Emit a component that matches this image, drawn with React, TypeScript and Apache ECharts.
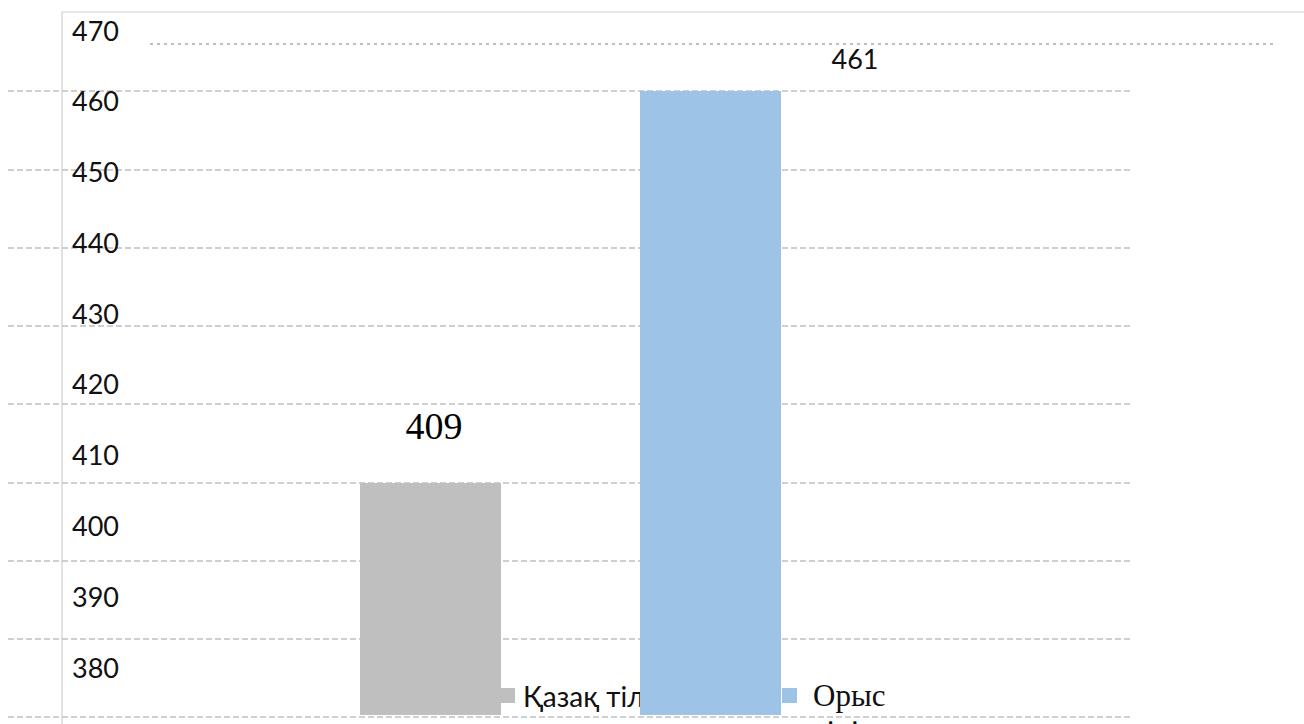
import React, { useEffect, useRef } from "react";
import * as echarts from "echarts";

const categories = ["Қазақ тілі", "Орыс тілі"];
const kazakhValues: (number | string)[] = [409, "-"];
const russianValues: (number | string)[] = ["-", 461];
const tickLabels = [380, 390, 400, 410, 420, 430, 440, 450, 460, 470];

export default function App() {
  const ref = useRef<HTMLDivElement>(null);
  useEffect(() => {
    if (!ref.current) return;
    const chart = echarts.init(ref.current, undefined, { renderer: "svg" });
    const sans = "Lato, 'Open Sans', sans-serif";
    const serif = "'Liberation Serif', 'Times New Roman', serif";
    chart.setOption({
      animation: false,
      backgroundColor: "#ffffff",
      grid: [
        { left: 8, right: 172, top: 91, bottom: 7 },
        { left: 290.5, right: 453.5, top: 91, bottom: 9 },
        { left: 62, right: 0, top: 30, bottom: 57 },
      ],
      xAxis: [
        { gridIndex: 0, type: "value", show: false },
        { gridIndex: 1, type: "category", data: categories, show: false },
        { gridIndex: 2, type: "value", show: false },
      ],
      yAxis: [
        {
          gridIndex: 0,
          type: "value",
          min: 380,
          max: 460,
          interval: 10,
          axisLabel: { show: false },
          axisLine: { show: false },
          axisTick: { show: false },
          splitLine: {
            show: true,
            lineStyle: { color: "#c0c0c0", width: 1.5, type: [6, 3] },
          },
        },
        { gridIndex: 1, type: "value", min: 378.2, max: 461, show: false },
        {
          gridIndex: 2,
          type: "value",
          min: tickLabels[0],
          max: tickLabels[tickLabels.length - 1],
          interval: 10,
          axisLine: { show: false },
          axisTick: { show: false },
          splitLine: { show: false },
          axisLabel: {
            inside: true,
            margin: 10,
            fontFamily: sans,
            fontSize: 27,
            color: "#111111",
          },
        },
      ],
      legend: [
        {
          data: [categories[0]],
          left: 500,
          top: 680.5,
          padding: 0,
          z: 1,
          icon: "rect",
          itemWidth: 15,
          itemHeight: 15,
          textStyle: {
            fontFamily: sans,
            fontSize: 28,
            lineHeight: 30,
            color: "#111111",
            padding: [0, 0, 0, 3],
          },
        },
        {
          data: [categories[1]],
          left: 782,
          top: 641.5,
          padding: 0,
          z: 1,
          icon: "rect",
          itemWidth: 15,
          itemHeight: 15,
          formatter: () => " \nОрыс\nтілі",
          textStyle: {
            fontFamily: serif,
            fontSize: 31,
            lineHeight: 36,
            color: "#111111",
            padding: [0, 0, 0, 11],
          },
        },
      ],
      series: [
        {
          name: categories[0],
          type: "bar",
          xAxisIndex: 1,
          yAxisIndex: 1,
          data: kazakhValues,
          barWidth: 141,
          barGap: "-100%",
          z: 3,
          itemStyle: { color: "#bfbfbf" },
          label: {
            show: true,
            position: [74, -57],
            align: "center",
            verticalAlign: "middle",
            fontFamily: serif,
            fontSize: 38,
            color: "#000000",
          },
        },
        {
          name: categories[1],
          type: "bar",
          xAxisIndex: 1,
          yAxisIndex: 1,
          data: russianValues,
          barWidth: 141,
          barGap: "-100%",
          z: 3,
          itemStyle: { color: "#9dc3e6" },
          label: {
            show: true,
            position: [215, -33],
            align: "center",
            verticalAlign: "middle",
            fontFamily: sans,
            fontSize: 27,
            color: "#111111",
          },
        },
      ],
      graphic: [
        {
          type: "rect",
          z: 0,
          silent: true,
          shape: { x: 62, y: 12, width: 1300, height: 800 },
          style: { fill: "none", stroke: "#cfcfcf", lineWidth: 1.2 },
        },
        {
          type: "line",
          z: 0,
          silent: true,
          shape: { x1: 150, y1: 44, x2: 1275, y2: 44 },
          style: { stroke: "#c0c0c0", lineWidth: 2, lineDash: [3, 4] },
        },
      ],
    });
    return () => chart.dispose();
  }, []);
  return (
    <div
      ref={ref}
      style={{ position: "absolute", left: 0, top: 0, width: 1304, height: 724 }}
    />
  );
}
